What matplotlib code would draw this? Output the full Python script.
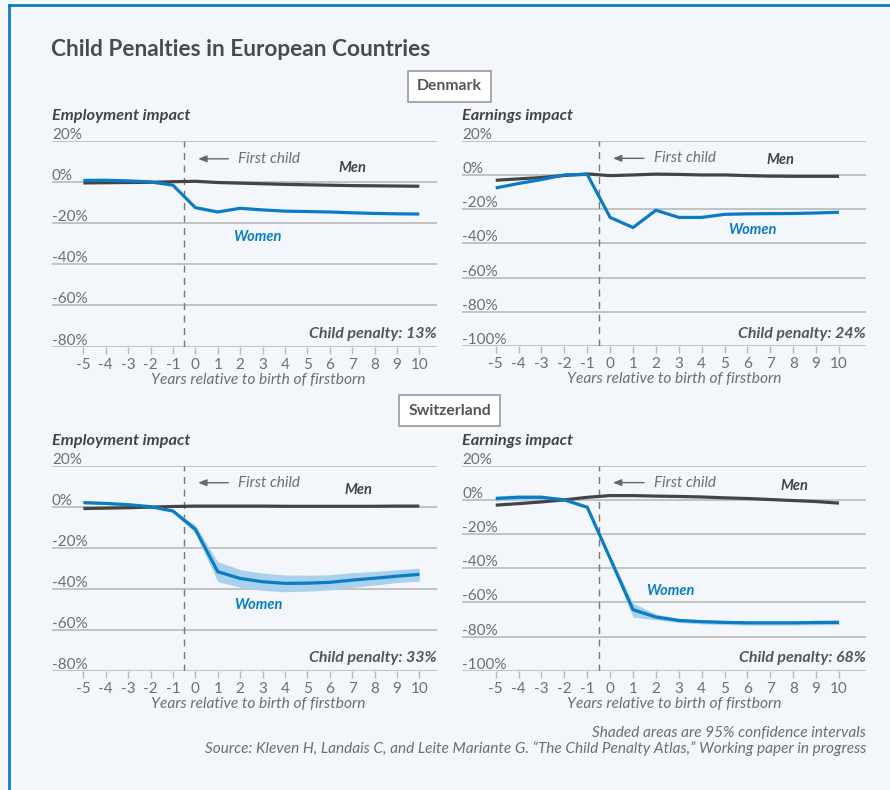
import matplotlib
matplotlib.use("Agg")
import matplotlib.pyplot as plt
from matplotlib.transforms import offset_copy
from matplotlib.lines import Line2D
import numpy as np

# ---- data ----
years = list(range(-5, 11))
xtick_labels = [str(y) for y in years]

dk_emp_men = [-0.5, -0.4, -0.3, -0.2, 0.1, 0.3, -0.3, -0.6, -0.9, -1.2, -1.4, -1.6, -1.8, -1.9, -2.0, -2.1]
dk_emp_women = [0.7, 0.8, 0.5, 0.0, -1.6, -12.5, -14.6, -12.8, -13.6, -14.2, -14.4, -14.6, -15.0, -15.3, -15.5, -15.6]
dk_earn_men = [-3.1, -2.3, -1.5, -0.3, 0.6, -0.4, 0.0, 0.5, 0.3, 0.0, 0.0, -0.4, -0.7, -0.8, -0.8, -0.8]
dk_earn_women = [-7.6, -5.0, -2.7, 0.0, 0.3, -24.8, -30.7, -20.6, -24.8, -24.8, -23.0, -22.7, -22.6, -22.5, -22.2, -21.8]

ch_emp_men = [-0.9, -0.7, -0.5, -0.2, 0.1, 0.3, 0.3, 0.3, 0.3, 0.2, 0.2, 0.2, 0.2, 0.2, 0.3, 0.3]
ch_emp_women = [2.0, 1.6, 1.0, 0.0, -2.1, -11.0, -31.7, -35.0, -36.6, -37.4, -37.3, -36.9, -35.8, -34.9, -33.9, -33.0]
ch_emp_women_lo = [1.4, 1.0, 0.4, -0.4, -2.8, -13.0, -36.6, -39.3, -40.8, -41.5, -41.2, -40.6, -39.4, -38.2, -37.0, -36.3]
ch_emp_women_hi = [2.6, 2.2, 1.6, 0.4, -1.4, -9.0, -26.8, -30.7, -32.4, -33.3, -33.4, -33.2, -32.2, -31.6, -30.8, -30.0]
ch_earn_men = [-3.1, -2.2, -1.2, 0.0, 1.5, 2.5, 2.5, 2.2, 2.0, 1.7, 1.2, 0.8, 0.2, -0.4, -1.0, -1.9]
ch_earn_women = [0.8, 1.5, 1.5, 0.0, -4.3, -34.3, -64.3, -68.6, -70.6, -71.3, -71.7, -72.0, -72.0, -72.0, -71.8, -71.7]
ch_earn_women_lo = [-0.7, 0.0, 0.2, -0.8, -5.3, -36.0, -68.6, -70.2, -71.8, -72.6, -73.0, -73.3, -73.3, -73.3, -73.2, -73.1]
ch_earn_women_hi = [2.3, 3.0, 2.8, 0.8, -3.3, -32.6, -60.4, -66.8, -69.4, -70.1, -70.5, -70.8, -70.8, -70.8, -70.5, -70.3]

emp_ticks = [20, 0, -20, -40, -60, -80]
earn_ticks = [20, 0, -20, -40, -60, -80, -100]
penalties = {"dk_emp": 13, "dk_earn": 24, "ch_emp": 33, "ch_earn": 68}

# ---- style ----
BLUE = "#0b7bc4"
DARK = "#444444"
GRAY = "#6e6e6e"
GRID = "#b9b9b9"
BG = "#f3f7fc"

plt.rcParams["font.family"] = ["Lato", "DejaVu Sans"]

W, H = 890, 790
fig = plt.figure(figsize=(W / 100, H / 100), dpi=100, facecolor=BG)


def px_axes(x0, x1, y0, y1):
    return fig.add_axes([x0 / W, 1 - y1 / H, (x1 - x0) / W, (y1 - y0) / H])


def panel(ax, heading, ticks, men, women, lo, hi, penalty, xlim,
          child_y, men_xy, women_xy):
    ax.set_facecolor("none")
    ax.set_xlim(*xlim)
    ax.set_ylim(min(ticks), max(ticks))
    for s in ax.spines.values():
        s.set_visible(False)
    for t in ticks:
        ax.axhline(t, color=GRID, lw=1.2, zorder=1)
    ylab_tr = offset_copy(ax.get_yaxis_transform(), fig=fig, x=0, y=2, units="dots")
    for t in ticks:
        ax.text(0, t, f"{t}%", transform=ylab_tr, ha="left", va="baseline",
                fontsize=11, color=GRAY)
    ax.set_yticks([])
    ax.set_xticks(years)
    ax.set_xticklabels(xtick_labels)
    ax.tick_params(axis="x", length=5, width=1, color=GRID, labelcolor=GRAY,
                   labelsize=11, pad=3)
    ax.axvline(-0.5, color="#777777", lw=1, ls=(0, (5, 4)), zorder=1)

    if lo is not None:
        ax.fill_between(years, lo, hi, color="#a9d0ec", lw=0, zorder=2)
    ax.plot(years, men, color=DARK, lw=2.3, zorder=3, solid_capstyle="butt")
    ax.plot(years, women, color=BLUE, lw=2.3, zorder=4, solid_capstyle="butt")

    ax.annotate("", xy=(0.0, child_y), xytext=(1.6, child_y),
                arrowprops=dict(arrowstyle="-|>,head_length=0.5,head_width=0.2",
                                color="#666666", lw=1))
    ax.text(1.9, child_y, "First child", style="italic", color=GRAY,
            fontsize=11, va="center", ha="left")
    ax.text(*men_xy, "Men", style="italic", weight="bold", color=DARK,
            fontsize=10.5, ha="center", va="center")
    ax.text(*women_xy, "Women", style="italic", weight="bold", color=BLUE,
            fontsize=10.5, ha="center", va="center")
    ax.text(1, 0.06, f"Child penalty: {penalty}%", transform=ax.transAxes,
            style="italic", weight="bold", color="#555555", fontsize=11.5,
            ha="right", va="center")
    head_tr = offset_copy(ax.transAxes, fig=fig, x=0, y=21, units="dots")
    ax.text(0, 1, heading, transform=head_tr, style="italic", weight="bold",
            color=DARK, fontsize=11.8, ha="left", va="baseline")
    xl_tr = offset_copy(ax.get_xaxis_transform(), fig=fig, x=0, y=-33, units="dots")
    ax.text(2.8, 0, "Years relative to birth of firstborn", transform=xl_tr,
            style="italic", color=GRAY, fontsize=11.2, ha="center", va="center")


ax1 = px_axes(52, 437, 140.7, 346.7)
panel(ax1, "Employment impact", emp_ticks, dk_emp_men, dk_emp_women, None, None,
      penalties["dk_emp"], (-6.40, 10.79), 11.2, (7.0, 6.8), (2.75, -26.8))
ax2 = px_axes(462.3, 866, 140.7, 346.2)
panel(ax2, "Earnings impact", earn_ticks, dk_earn_men, dk_earn_women, None, None,
      penalties["dk_earn"], (-6.46, 11.18), 9.7, (7.44, 8.6), (6.2, -32.2))
ax3 = px_axes(52, 437, 465.7, 670.7)
panel(ax3, "Employment impact", emp_ticks, ch_emp_men, ch_emp_women,
      ch_emp_women_lo, ch_emp_women_hi, penalties["ch_emp"], (-6.40, 10.79),
      11.7, (7.27, 8.1), (2.8, -48.0))
ax4 = px_axes(462.3, 866, 465.7, 670.7)
panel(ax4, "Earnings impact", earn_ticks, ch_earn_men, ch_earn_women,
      ch_earn_women_lo, ch_earn_women_hi, penalties["ch_earn"], (-6.46, 11.18),
      10.1, (8.04, 8.2), (2.64, -53.2))

# title, country boxes, notes
fig.text(51 / W, 1 - 50 / H, "Child Penalties in European Countries",
         fontsize=16.3, weight="bold", color="#4a4a4a", ha="left", va="center")
box = dict(boxstyle="square,pad=0.55", fc="white", ec="#9a9a9a", lw=1.2)
fig.text(449.5 / W, 1 - 86.5 / H, "Denmark", fontsize=11.3, weight="bold",
         color="#555555", ha="center", va="center", bbox=box)
fig.text(449.5 / W, 1 - 410.7 / H, "Switzerland", fontsize=11.3, weight="bold",
         color="#555555", ha="center", va="center", bbox=box)
fig.text(866 / W, 1 - 733 / H, "Shaded areas are 95% confidence intervals",
         style="italic", color=GRAY, fontsize=11.1, ha="right", va="center")
fig.text(866 / W, 1 - 749 / H,
         "Source: Kleven H, Landais C, and Leite Mariante G. \u201cThe Child Penalty Atlas,\u201d Working paper in progress",
         style="italic", color=GRAY, fontsize=11.1, ha="right", va="center")

# blue frame on top and left
fig.add_artist(Line2D([9 / W, 1], [1 - 5.3 / H, 1 - 5.3 / H], color=BLUE, lw=2,
                      transform=fig.transFigure))
fig.add_artist(Line2D([9 / W, 9 / W], [0, 1 - 5.3 / H], color=BLUE, lw=2,
                      transform=fig.transFigure))

fig.savefig("out.png", dpi=100, facecolor=BG)
